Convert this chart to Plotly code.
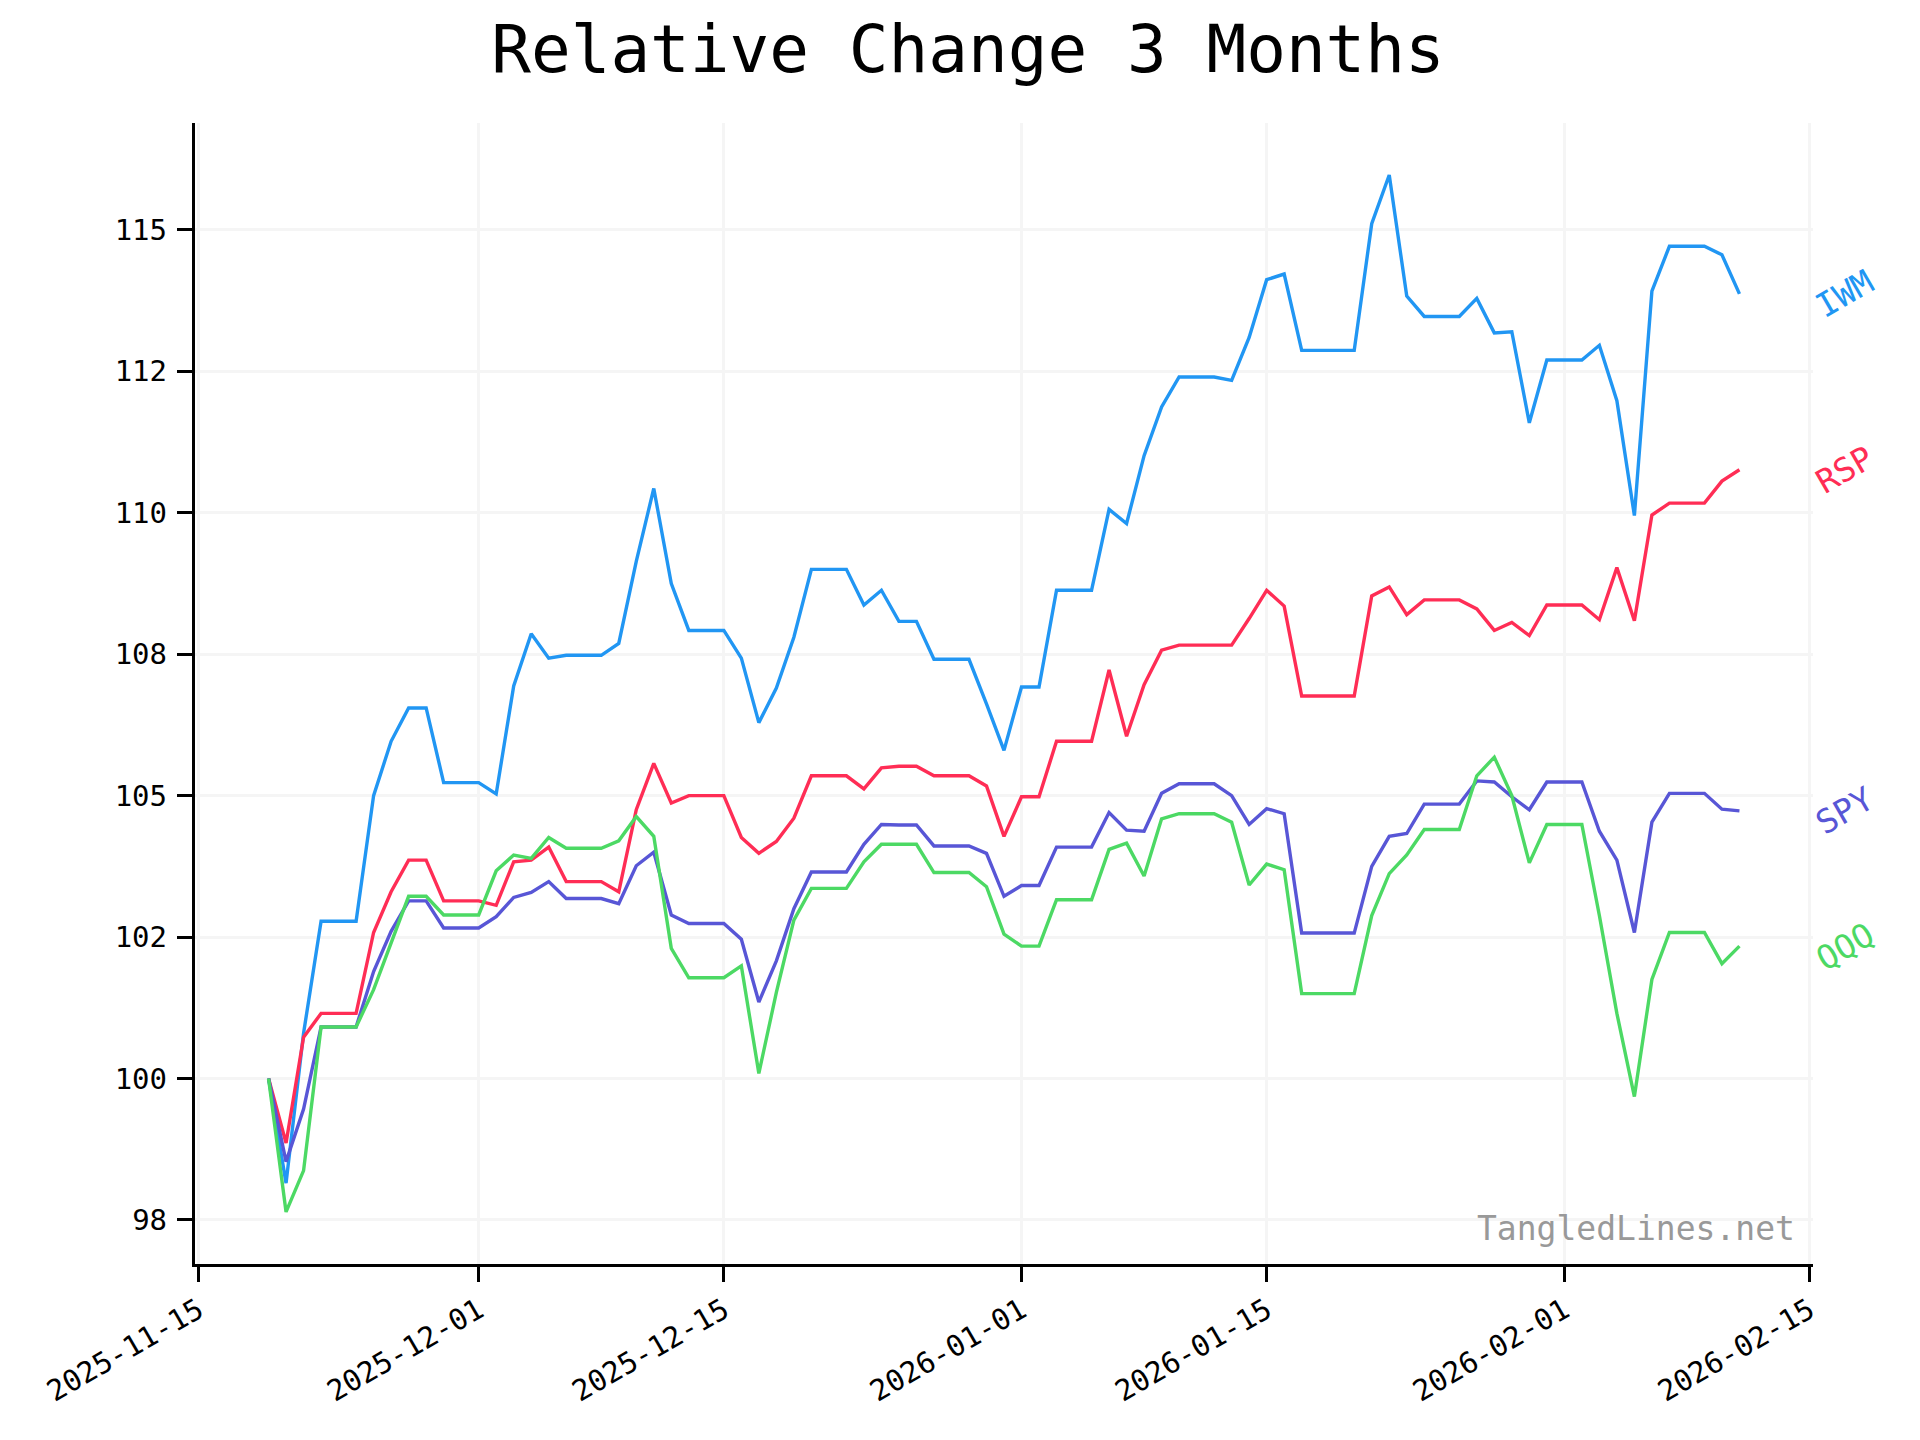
import pandas as pd
import plotly.graph_objects as go

START_DATE = "2025-11-19"
N_DAYS = 85

IWM = [100, 98.15, 100.8, 102.78, 102.78, 102.78, 105.0, 105.96, 106.55, 106.55,
       105.23, 105.23, 105.23, 105.03, 106.94, 107.86, 107.43, 107.48, 107.48, 107.48,
       107.69, 109.14, 110.43, 108.75, 107.92, 107.92, 107.92, 107.43, 106.29, 106.90,
       107.8, 109.0, 109.0, 109.0, 108.37, 108.63, 108.08, 108.08, 107.41, 107.41,
       107.41, 106.62, 105.80, 106.92, 106.92, 108.63, 108.63, 108.63, 110.06, 109.81,
       111.01, 111.87, 112.40, 112.40, 112.40, 112.34, 113.10, 114.12, 114.22, 112.87,
       112.87, 112.87, 112.87, 115.11, 115.97, 113.83, 113.47, 113.47, 113.47, 113.79,
       113.18, 113.20, 111.59, 112.70, 112.70, 112.70, 112.96, 111.98, 109.95, 113.92,
       114.71, 114.71, 114.71, 114.56, 113.87]

RSP = [100, 98.86, 100.73, 101.15, 101.15, 101.15, 102.58, 103.30, 103.86, 103.86,
       103.14, 103.14, 103.14, 103.06, 103.83, 103.86, 104.09, 103.48, 103.48, 103.48,
       103.30, 104.75, 105.57, 104.87, 105.0, 105.0, 105.0, 104.26, 103.98, 104.19,
       104.6, 105.35, 105.35, 105.35, 105.12, 105.49, 105.52, 105.52, 105.35, 105.35,
       105.35, 105.17, 104.28, 104.98, 104.98, 105.96, 105.96, 105.96, 107.22, 106.05,
       106.96, 107.57, 107.66, 107.66, 107.66, 107.66, 108.13, 108.63, 108.35, 106.76,
       106.76, 106.76, 106.76, 108.53, 108.69, 108.20, 108.46, 108.46, 108.46, 108.30,
       107.92, 108.06, 107.83, 108.37, 108.37, 108.37, 108.11, 109.03, 108.09, 109.96,
       110.17, 110.17, 110.17, 110.56, 110.76]

SPY = [100, 98.53, 99.46, 100.91, 100.91, 100.91, 101.89, 102.60, 103.14, 103.14,
       102.66, 102.66, 102.66, 102.86, 103.20, 103.29, 103.48, 103.18, 103.18, 103.18,
       103.09, 103.76, 104.0, 102.89, 102.74, 102.74, 102.74, 102.46, 101.35, 102.08,
       103.0, 103.65, 103.65, 103.65, 104.14, 104.49, 104.48, 104.48, 104.11, 104.11,
       104.11, 103.98, 103.22, 103.41, 103.41, 104.09, 104.09, 104.09, 104.70, 104.39,
       104.37, 105.04, 105.21, 105.21, 105.21, 105.0, 104.49, 104.77, 104.68, 102.57,
       102.57, 102.57, 102.57, 103.75, 104.28, 104.33, 104.85, 104.85, 104.85, 105.26,
       105.24, 104.98, 104.75, 105.24, 105.24, 105.24, 104.37, 103.86, 102.58, 104.53,
       105.04, 105.04, 105.04, 104.76, 104.73]

QQQ = [100, 97.64, 98.37, 100.91, 100.91, 100.91, 101.57, 102.41, 103.22, 103.22,
       102.89, 102.89, 102.89, 103.67, 103.95, 103.89, 104.26, 104.07, 104.07, 104.07,
       104.20, 104.63, 104.28, 102.30, 101.78, 101.78, 101.78, 101.99, 100.09, 101.52,
       102.8, 103.36, 103.36, 103.36, 103.83, 104.14, 104.14, 104.14, 103.64, 103.64,
       103.64, 103.39, 102.55, 102.34, 102.34, 103.16, 103.16, 103.16, 104.05, 104.16,
       103.58, 104.59, 104.68, 104.68, 104.68, 104.53, 103.42, 103.79, 103.69, 101.50,
       101.50, 101.50, 101.50, 102.88, 103.62, 103.95, 104.40, 104.40, 104.40, 105.35,
       105.68, 105.0, 103.81, 104.49, 104.49, 104.49, 102.88, 101.15, 99.68, 101.75,
       102.58, 102.58, 102.58, 102.03, 102.34]

SERIES_NAMES = ["IWM", "RSP", "SPY", "QQQ"]
SERIES_VALUES = [IWM, RSP, SPY, QQQ]
SERIES_COLORS = ["#2196F3", "#FF2D55", "#5856D6", "#4CD964"]

X_TICKS = ["2025-11-15", "2025-12-01", "2025-12-15", "2026-01-01",
           "2026-01-15", "2026-02-01", "2026-02-15"]
Y_TICKS = [97.5, 100, 102.5, 105, 107.5, 110, 112.5, 115]
Y_TICK_LABELS = ["98", "100", "102", "105", "108", "110", "112", "115"]

dates = pd.date_range(START_DATE, periods=N_DAYS, freq="D")

FONT = "DejaVu Sans Mono"

fig = go.Figure()
for name, vals, col in zip(SERIES_NAMES, SERIES_VALUES, SERIES_COLORS):
    fig.add_trace(go.Scatter(x=dates, y=vals, mode="lines", name=name,
                             line=dict(color=col, width=3.4), showlegend=False))

annotations = []
for name, vals, col in zip(SERIES_NAMES, SERIES_VALUES, SERIES_COLORS):
    annotations.append(dict(x=1.0198, xref="paper", y=vals[-1], yref="y",
                            text=name, textangle=-30, showarrow=False,
                            xanchor="center", yanchor="middle",
                            font=dict(family=FONT, size=33, color=col)))
annotations.append(dict(x=0.99, xref="paper", y=0.031, yref="paper",
                        text="TangledLines.net", showarrow=False,
                        xanchor="right", yanchor="middle",
                        font=dict(family=FONT, size=33, color="#999999")))

axis_common = dict(showgrid=True, gridcolor="#f5f5f5", gridwidth=3,
                   showline=True, linecolor="black", linewidth=3.3,
                   ticks="outside", ticklen=15, tickwidth=3, tickcolor="black",
                   tickfont=dict(family=FONT, size=29, color="black"),
                   zeroline=False, mirror=False)

fig.update_layout(
    width=1920, height=1440,
    margin=dict(l=187, r=115, t=115, b=184),
    paper_bgcolor="white", plot_bgcolor="white",
    font=dict(family=FONT, color="black"),
    title=dict(text="Relative Change 3 Months", x=0.5, xref="container",
               y=1 - 41 / 1440, yref="container", xanchor="center", yanchor="middle",
               font=dict(family=FONT, size=66, color="black")),
    xaxis=dict(type="date", range=["2025-11-14 19:12", "2026-02-15 04:48"],
               tickvals=X_TICKS, ticktext=X_TICKS, tickangle=-30, **axis_common),
    yaxis=dict(range=[96.72, 116.89], tickvals=Y_TICKS, ticktext=Y_TICK_LABELS,
               ticklabelstandoff=4, **axis_common),
    annotations=annotations,
)

fig.write_html("out.html")
